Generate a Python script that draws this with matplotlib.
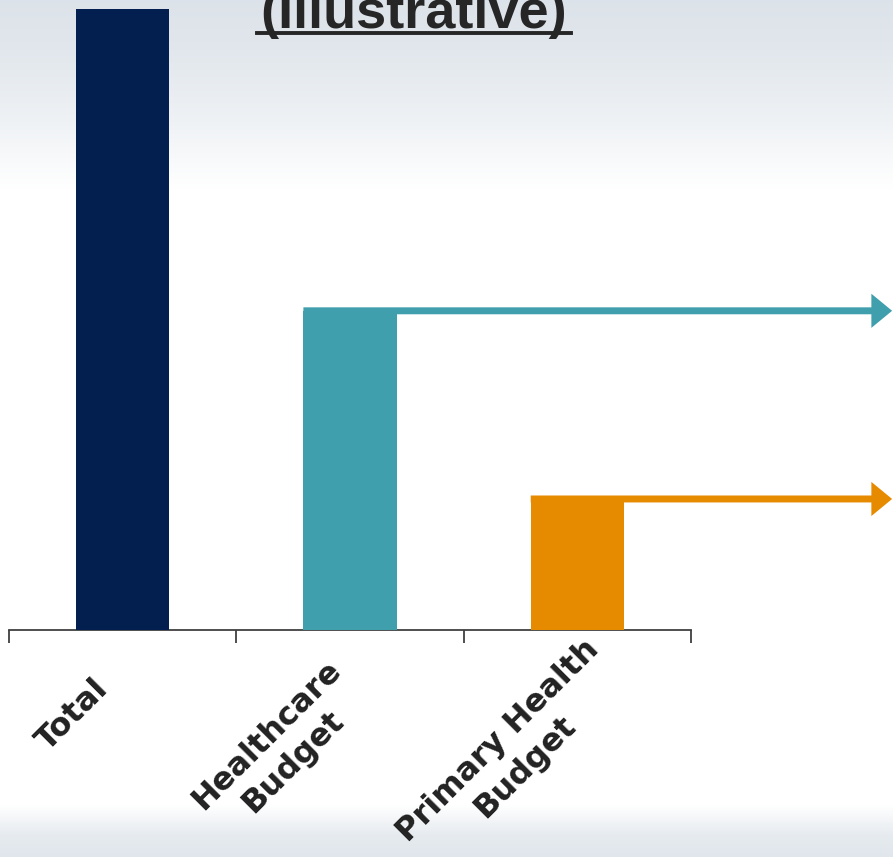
import numpy as np
import matplotlib

matplotlib.use("Agg")
import matplotlib.pyplot as plt
from matplotlib.lines import Line2D

# chart data
categories = ["Total", "Healthcare\nBudget", "Primary Health\nBudget"]
values = [100.0, 51.4, 21.1]
bar_colors = ["#021f4f", "#409fac", "#e68a00"]
title = "(Illustrative)"

# pixel offsets of each rotated label's centre from its category centre
label_offsets = [(-50, -85), (-70, -119), (-66, -124)]

W, H, DPI = 893, 857, 100
fig = plt.figure(figsize=(W / DPI, H / DPI), dpi=DPI)

# soft grey/white slide background (light band at top and bottom)
bg = fig.add_axes([0, 0, 1, 1], zorder=-10)
rows = np.linspace(0, 1, 600)
stops_y = [0.0, 0.05, 0.13, 0.22, 0.94, 0.975, 1.0]
stops_a = [0.85, 0.75, 0.45, 0.0, 0.0, 0.6, 0.75]
alpha = np.interp(rows, stops_y, stops_a)
tint = np.array([0.84, 0.87, 0.90])
img = 1 - alpha[:, None, None] * (1 - tint[None, None, :])
img = np.repeat(img, 4, axis=1)
bg.imshow(img, aspect="auto", extent=[0, 1, 0, 1], origin="upper")
bg.axis("off")

ax = fig.add_axes([9 / W, 1 - 630 / H, 682 / W, 630 / H])
ax.patch.set_alpha(0)
x = np.arange(len(categories))
ax.bar(x, values, width=0.41, color=bar_colors, zorder=3)
ax.set_xlim(-0.5, len(categories) - 0.5)
ax.set_ylim(0, values[0] * 630 / 621)

for s in ["top", "right", "left"]:
    ax.spines[s].set_visible(False)
ax.spines["bottom"].set_color("#404040")
ax.spines["bottom"].set_linewidth(1.3)
ax.set_yticks([])
ax.set_xticks(np.arange(-0.5, len(categories), 1.0))
ax.set_xticklabels([])
ax.tick_params(axis="x", direction="out", length=9, width=1.3, color="#404040")

for i, (lab, off) in enumerate(zip(categories, label_offsets)):
    ax.annotate(lab, xy=(i, 0), xycoords=("data", "axes fraction"),
                xytext=off, textcoords="offset pixels",
                rotation=45, ha="center", va="center",
                multialignment="center", linespacing=1.3,
                fontsize=23, fontweight="bold", color="#222222",
                family="DejaVu Sans", annotation_clip=False)

# arrows carrying the two budget levels off to the right
for i in (1, 2):
    ax.annotate("", xy=(0.999, values[i]), xycoords=("figure fraction", "data"),
                xytext=(i - 0.205, values[i]), textcoords="data",
                arrowprops=dict(arrowstyle="-|>,head_length=0.85,head_width=0.7",
                                color=bar_colors[i], lw=5, shrinkA=0, shrinkB=0,
                                capstyle="butt", joinstyle="miter"),
                annotation_clip=False, zorder=4)

t = fig.text(414 / W, 1 - 28 / H, title, ha="center", va="baseline",
             fontsize=39, fontweight="bold", color="#262626",
             family="Liberation Sans")
fig.canvas.draw()
bb = t.get_window_extent()
uy = 1 - 32.5 / H
fig.add_artist(Line2D([bb.x0 / W - 0.004, bb.x1 / W + 0.004], [uy, uy],
                      color="#262626", lw=2.8, transform=fig.transFigure))

fig.savefig("out.png", dpi=DPI)
